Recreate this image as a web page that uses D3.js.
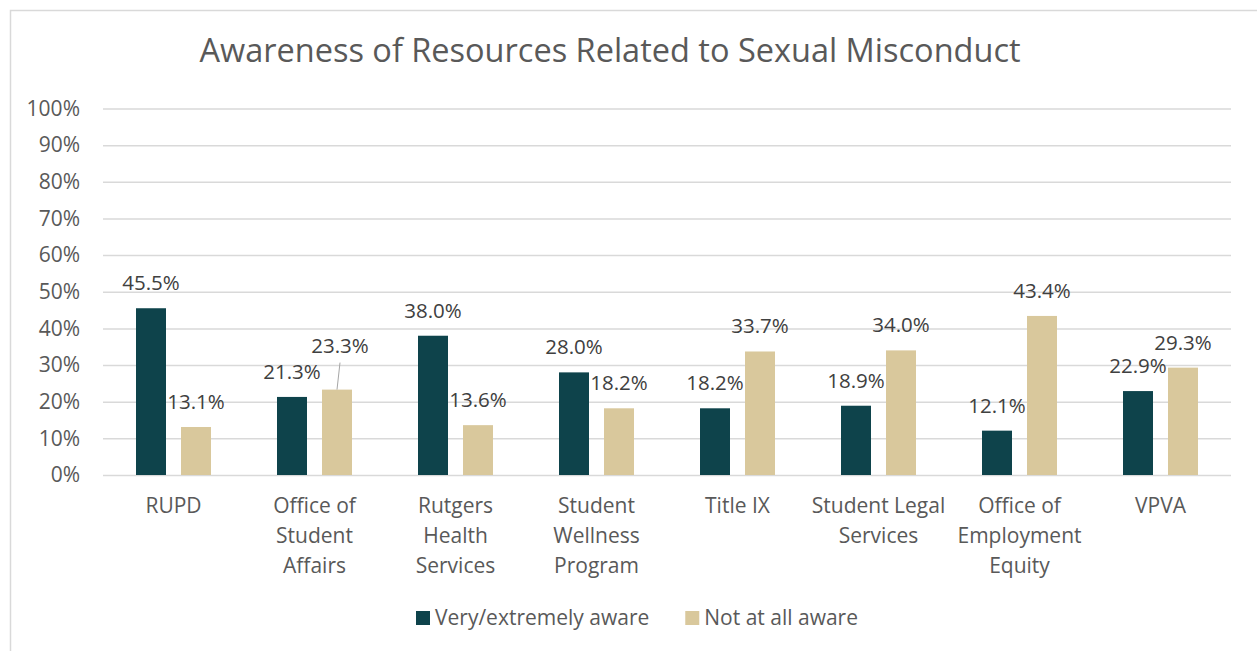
<!DOCTYPE html>
<meta charset="utf-8">
<body style="margin:0;background:#fff">
<div class="chart"></div>
<script src="https://d3js.org/d3.v7.min.js"></script>
<script>

    // chart values
    const categories = ["RUPD", "Office of\nStudent\nAffairs", "Rutgers\nHealth\nServices", "Student\nWellness\nProgram",
        "Title IX", "Student Legal\nServices", "Office of\nEmployment\nEquity", "VPVA"];
    const seriesNames = ["Very/extremely aware", "Not at all aware"];
    const veryAware = [0.455, 0.213, 0.380, 0.280, 0.182, 0.189, 0.121, 0.229];
    const notAware = [0.131, 0.233, 0.136, 0.182, 0.337, 0.340, 0.434, 0.293];
    const yTicks = [0, 0.1, 0.2, 0.3, 0.4, 0.5, 0.6, 0.7, 0.8, 0.9, 1];
    const colors = ["#0e434b", "#d9c89c"];

    const width = 1257, height = 651;
    const font = "'Open Sans', 'DejaVu Sans', sans-serif";

    // labels that were dragged away from the bar in the original (with leader line)
    const movedLabels = {"1-1": {dx: 3, dy: -19}};

    let svg = d3.select(".chart").append("svg")
        .attr("width", width)
        .attr("height", height)
        .style("font-family", font);

    svg.append("rect")
        .attr("x", 10.5).attr("y", 10.5)
        .attr("width", 1300).attr("height", 700)
        .attr("fill", "#fff")
        .attr("stroke", "#d9d9d9")
        .attr("stroke-width", 1.5);

    svg.append("text")
        .attr("x", 610).attr("y", 62)
        .attr("text-anchor", "middle")
        .attr("fill", "#595959")
        .style("font-size", "32.5px")
        .text("Awareness of Resources Related to Sexual Misconduct");

    let x = d3.scaleBand().domain(categories).range([103, 1231]);
    let x1 = d3.scaleBand().domain(seriesNames)
        .range([x.bandwidth() / 2 - 37.5, x.bandwidth() / 2 + 37.5])
        .paddingInner(1 / 3);
    let y = d3.scaleLinear().domain([0, 1]).range([475, 108.5]);

    // gridlines + y labels
    let yAxis = svg.append("g")
        .attr("transform", "translate(103,0)")
        .call(d3.axisLeft(y).tickValues(yTicks).tickFormat(d3.format(".0%"))
            .tickSize(-(1231 - 103)).tickPadding(23));
    yAxis.select(".domain").remove();
    yAxis.selectAll("line").attr("stroke", "#d9d9d9").attr("stroke-width", 1.5);
    yAxis.selectAll("text")
        .attr("fill", "#595959")
        .style("font-size", "21px")
        .style("font-family", font);

    // category labels
    let xAxis = svg.append("g")
        .attr("transform", "translate(0,475)")
        .call(d3.axisBottom(x).tickSize(0).tickPadding(0));
    xAxis.select(".domain").remove();
    xAxis.selectAll("text").each(function (d) {
        let t = d3.select(this).text(null).attr("y", 0).attr("dy", null)
            .attr("fill", "#595959")
            .style("font-size", "21px")
            .style("font-family", font);
        d.split("\n").forEach((line, i) => {
            t.append("tspan").attr("x", 0).attr("y", 38 + i * 30).text(line);
        });
    });

    // bars
    const seriesValues = [veryAware, notAware];
    let rows = [];
    seriesValues.forEach((vals, s) => {
        vals.forEach((v, c) => rows.push({s: s, c: c, cat: categories[c], name: seriesNames[s], value: v}));
    });

    svg.append("g").selectAll("rect")
        .data(rows)
        .join("rect")
        .attr("x", d => x(d.cat) + x1(d.name))
        .attr("y", d => y(d.value))
        .attr("width", x1.bandwidth())
        .attr("height", d => y(0) - y(d.value))
        .attr("fill", d => colors[d.s]);

    // data labels
    let labels = svg.append("g");
    rows.forEach(d => {
        let cx = x(d.cat) + x1(d.name) + x1.bandwidth() / 2;
        let by = y(d.value) - 18;
        let mv = movedLabels[d.c + "-" + d.s];
        if (mv) {
            labels.append("line")
                .attr("x1", cx).attr("y1", y(d.value))
                .attr("x2", cx + mv.dx).attr("y2", by + mv.dy + 10)
                .attr("stroke", "#a6a6a6").attr("stroke-width", 1);
            cx += mv.dx;
            by += mv.dy;
        }
        labels.append("text")
            .attr("x", cx).attr("y", by)
            .attr("text-anchor", "middle")
            .attr("fill", "#404040")
            .style("font-size", "20.5px")
            .text(d3.format(".1%")(d.value));
    });

    // legend
    let legend = svg.append("g").attr("transform", "translate(416,611)");
    let lx = 0;
    seriesNames.forEach((n, i) => {
        legend.append("rect").attr("x", lx).attr("y", 0).attr("width", 14).attr("height", 14).attr("fill", colors[i]);
        let t = legend.append("text")
            .attr("x", lx + 19).attr("y", 14)
            .attr("fill", "#595959")
            .style("font-size", "21px")
            .text(n);
        lx += 19 + t.node().getComputedTextLength() + 36;
    });

</script>
